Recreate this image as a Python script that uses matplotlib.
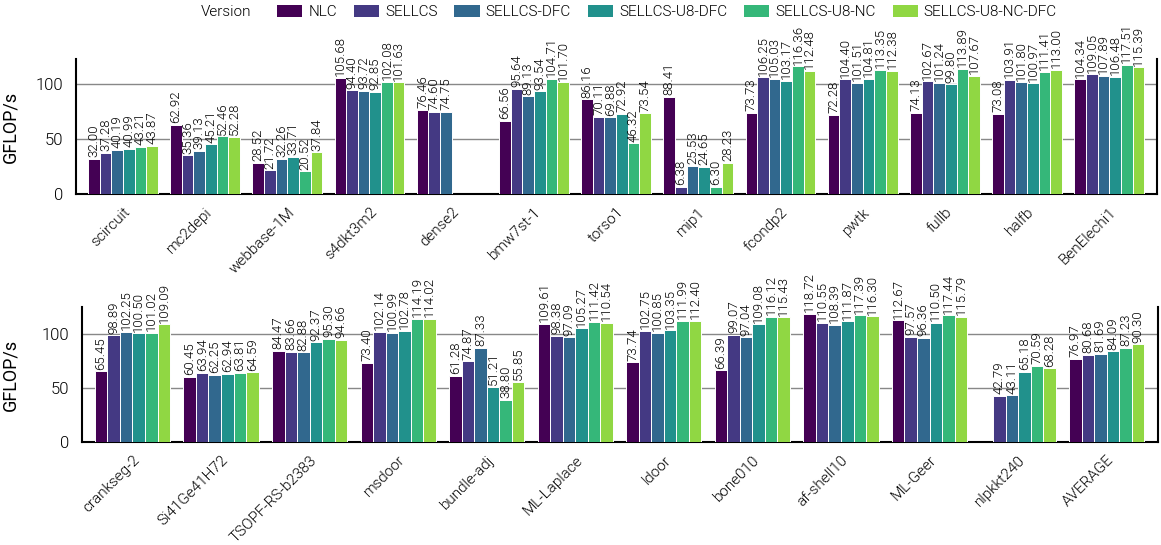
import numpy as np
import matplotlib
matplotlib.use('Agg')
import matplotlib.pyplot as plt
from matplotlib.patches import Patch

plt.rcParams['font.family'] = ['Roboto', 'DejaVu Sans']
plt.rcParams['font.weight'] = 300

nan = np.nan

versions = ['NLC', 'SELLCS', 'SELLCS-DFC', 'SELLCS-U8-DFC', 'SELLCS-U8-NC', 'SELLCS-U8-NC-DFC']
colors = ['#440154', '#443983', '#31688e', '#21918c', '#35b779', '#90d743']

# top row matrices
top_names = ['scircuit', 'mc2depi', 'webbase-1M', 's4dkt3m2', 'dense2', 'bmw7st-1', 'torso1',
             'mip1', 'fcondp2', 'pwtk', 'fullb', 'halfb', 'BenElechi1']
top_nlc = [32.00, 62.92, 28.52, 105.68, 76.46, 66.56, 86.16, 88.41, 73.73, 72.28, 74.13, 73.08, 104.34]
top_sellcs = [37.28, 35.36, 21.72, 94.40, 74.60, 95.64, 70.11, 6.38, 106.25, 104.40, 102.67, 103.91, 109.05]
top_dfc = [40.19, 39.13, 32.26, 93.72, 74.75, 89.13, 69.88, 25.53, 105.03, 101.51, 101.24, 101.80, 107.89]
top_u8dfc = [40.99, 45.21, 33.71, 92.85, nan, 93.54, 72.92, 24.65, 103.17, 104.81, 99.80, 100.97, 106.48]
top_u8nc = [43.21, 52.46, 20.52, 102.08, nan, 104.71, 46.32, 6.30, 116.36, 113.35, 113.89, 111.41, 117.51]
top_u8ncdfc = [43.87, 52.28, 37.84, 101.63, nan, 101.70, 73.54, 28.23, 112.48, 112.38, 107.67, 113.00, 115.39]

# bottom row matrices
bot_names = ['crankseg-2', 'Si41Ge41H72', 'TSOPF-RS-b2383', 'msdoor', 'bundle-adj', 'ML-Laplace',
             'ldoor', 'bone010', 'af-shell10', 'ML-Geer', 'nlpkkt240', 'AVERAGE']
bot_nlc = [65.45, 60.45, 84.47, 73.40, 61.28, 109.61, 73.74, 66.39, 118.72, 112.67, nan, 76.97]
bot_sellcs = [98.89, 63.94, 83.66, 102.14, 74.87, 98.38, 102.75, 99.07, 110.55, 97.57, 42.79, 80.68]
bot_dfc = [102.25, 62.25, 82.88, 100.99, 87.33, 97.09, 100.85, 97.04, 108.39, 96.36, 43.11, 81.69]
bot_u8dfc = [100.50, 62.94, 92.37, 102.78, 51.21, 105.27, 103.35, 109.08, 111.87, 110.50, 65.18, 84.09]
bot_u8nc = [101.02, 63.81, 95.30, 114.19, 38.80, 111.42, 111.99, 116.12, 117.39, 117.44, 70.59, 87.23]
bot_u8ncdfc = [109.09, 64.59, 94.66, 114.02, 55.85, 110.54, 112.40, 115.43, 116.30, 115.79, 68.28, 90.30]

top_series = [top_nlc, top_sellcs, top_dfc, top_u8dfc, top_u8nc, top_u8ncdfc]
bot_series = [bot_nlc, bot_sellcs, bot_dfc, bot_u8dfc, bot_u8nc, bot_u8ncdfc]

fig = plt.figure(figsize=(11.61, 5.45), dpi=100)
ax1 = fig.add_axes([76/1161, 1-194/545, 1081/1161, 135/545])
ax2 = fig.add_axes([82/1161, 1-442/545, 1076/1161, 135/545])

def draw(ax, names, series, ymax, lab_x):
    x = np.arange(len(names))
    w = 0.85 / 6
    for j, vals in enumerate(series):
        vals = np.array(vals, dtype=float)
        pos = x + (j - 2.5) * w
        ax.bar(pos, vals, w, color=colors[j], edgecolor='white', linewidth=0.7, zorder=3)
        for p, v in zip(pos, vals):
            if np.isnan(v):
                continue
            ax.text(p, v + 1.5, '%.2f' % v, rotation=90, ha='center', va='bottom',
                    fontsize=9.5, color='black', zorder=4)
    ax.set_xlim(-0.57, len(names) - 1 + 0.58)
    ax.set_ylim(0, ymax)
    ax.set_yticks([0, 50, 100])
    ax.grid(axis='y', color='#888888', linewidth=1, zorder=0)
    ax.set_xticks(x)
    ax.set_xticklabels(names, rotation=45, ha='right', rotation_mode='anchor', fontsize=11,
                       color='black')
    ax.tick_params(length=0, pad=8)
    ax.tick_params(axis='y', labelsize=12, pad=9, labelcolor='black')
    ax.spines['top'].set_visible(False)
    for s in ['left', 'bottom', 'right']:
        ax.spines[s].set_linewidth(1.5)
    ax.set_ylabel('GFLOP/s', fontsize=13, color='black')
    ax.yaxis.set_label_coords(lab_x, 0.5)

draw(ax1, top_names, top_series, 123, -0.052)
draw(ax2, bot_names, bot_series, 125, -0.058)

handles = [Patch(facecolor=c, edgecolor='none') for c in colors]
fig.legend(handles, versions, loc='center', bbox_to_anchor=(667/1161, 1-12/545), ncol=6,
           frameon=False, fontsize=11, handlelength=1.65, handleheight=0.85,
           handletextpad=0.4, columnspacing=1.1, borderpad=0)
fig.text(251/1161, 1-12/545, 'Version', ha='right', va='center', fontsize=11)

fig.savefig('out.png', dpi=100)
